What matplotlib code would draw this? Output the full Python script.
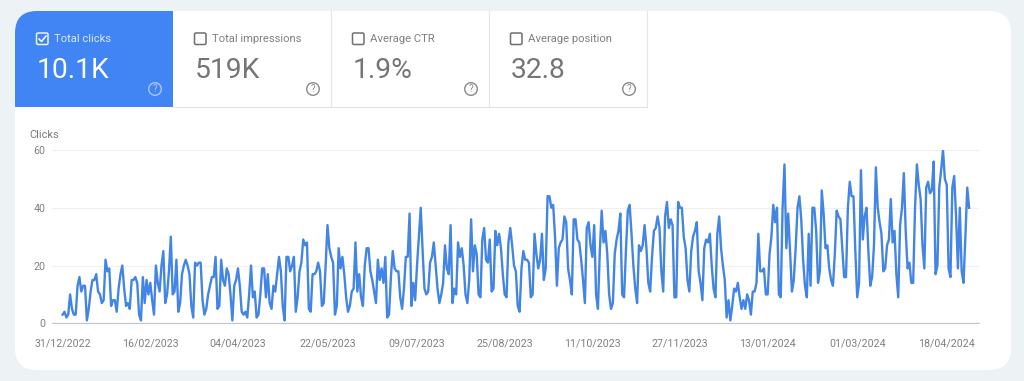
import matplotlib
matplotlib.use("Agg")
import matplotlib.pyplot as plt
from matplotlib.patches import FancyBboxPatch, Rectangle, Circle
import numpy as np

plt.rcParams['font.family'] = ['Roboto', 'DejaVu Sans']

tile_names = ["Total clicks", "Total impressions", "Average CTR", "Average position"]
tile_values = ["10.1K", "519K", "1.9%", "32.8"]
y_ticks = [0, 20, 40, 60]
x_tick_days = [0, 47, 94, 142, 190, 237, 284, 331, 378, 426, 474]
x_tick_labels = ["31/12/2022", "16/02/2023", "04/04/2023", "22/05/2023", "09/07/2023", "25/08/2023",
                 "11/10/2023", "27/11/2023", "13/01/2024", "01/03/2024", "18/04/2024"]

# daily clicks
clicks_a = [3, 4, 2, 3, 10, 5, 3, 3, 13, 16, 11, 13, 13, 1, 5, 11, 15, 15, 17, 11, 10, 7, 8, 22, 18, 19, 6, 8, 8, 4,
            12, 17, 20, 12, 6, 7, 5, 15, 15, 16, 14, 3, 1, 16, 7, 15, 10, 14, 8, 3, 20, 14, 11, 20, 25, 7, 10, 18, 30,
            10, 11, 22, 4, 7, 17, 20, 22, 20, 17, 6, 2, 21, 20, 21, 21, 8, 3, 5, 10, 13, 16, 16, 23, 5, 6, 22, 15, 13,
            19, 17, 10, 1, 13, 15, 19, 13, 4, 3, 4, 2, 10, 20, 9, 11, 2, 3, 10, 19, 19, 9, 17, 7, 5, 13, 11, 17, 23,
            18, 6, 1, 23, 23, 18, 20, 23, 4, 9, 18, 21, 29, 27, 28, 5, 4, 17, 17, 18, 21, 18, 6, 7, 20, 34, 26, 23, 21,
            3, 6, 26, 19, 23, 17, 9, 4, 6, 11, 12, 28]
clicks_b = [11, 17, 9, 6, 20, 26, 26, 18, 15, 11, 7, 22, 15, 19, 14, 23, 2, 3, 16, 25, 19, 18, 18, 9, 5, 12, 23, 23,
            38, 6, 14, 8, 20, 30, 40, 25, 12, 10, 11, 21, 23, 28, 20, 12, 7, 10, 14, 27, 19, 17, 34, 7, 12, 10, 28, 23,
            26, 20, 10, 7, 15, 36, 18, 27, 24, 10, 9, 29, 33, 22, 21, 29, 11, 12, 32, 27, 31, 26, 17, 10, 9, 28, 33,
            27, 20, 18, 6, 4, 19, 25, 22, 22, 21, 9, 10, 31, 24, 19, 22, 31, 15, 19, 44, 44, 40, 41, 30, 13, 26, 28,
            29, 37, 35, 19, 15, 10, 36, 36, 29, 28, 22, 15, 7, 33, 35, 27, 23, 34, 10, 5, 25, 39, 28, 32, 24, 10, 5, 7,
            24, 29, 32, 38, 10, 9, 25, 39, 41, 31, 20, 12, 7, 27, 25, 27, 34, 26, 14, 11, 23, 32, 33, 37, 33, 18, 11,
            37, 42, 33, 36, 34, 9, 9, 42, 40, 40]
clicks_c = [30, 26, 15, 11, 25, 30, 32, 35, 18, 14, 8, 26, 29, 28, 31, 20, 12, 9, 31, 37, 26, 20, 15, 2, 8, 1, 6, 12,
            11, 14, 9, 5, 8, 5, 10, 8, 3, 11, 11, 14, 31, 18, 18, 19, 10, 10, 24, 30, 41, 35, 40, 10, 9, 40, 55, 26,
            38, 25, 11, 15, 26, 40, 44, 36, 22, 13, 9, 31, 13, 40, 40, 32, 14, 18, 46, 38, 26, 27, 19, 15, 13, 24, 39,
            37, 36, 26, 16, 16, 40, 49, 44, 44, 25, 9, 14, 53, 29, 37, 40, 25, 13, 16, 27, 54, 40, 35, 31, 18, 19, 27,
            29, 43, 28, 32, 17, 9, 34, 40, 52, 32, 19, 21, 14, 14, 40, 55, 48, 43, 27, 19, 47, 49, 45, 46, 56, 17, 20,
            47, 53, 60, 50, 48, 19, 16, 47, 51, 37, 19, 40, 18, 14, 30, 47, 40]
clicks = clicks_a + clicks_b + clicks_c

fig = plt.figure(figsize=(10.24, 3.81), dpi=100, facecolor='#edf2f5')

# page layer in pixel coordinates
bg = fig.add_axes([0, 0, 1, 1])
bg.set_xlim(0, 1024)
bg.set_ylim(381, 0)
bg.axis('off')

card = FancyBboxPatch((15, 11), 996, 359, boxstyle="round,pad=0,rounding_size=22", facecolor='white', edgecolor='none')
bg.add_patch(card)

blue = Rectangle((15, 11), 158, 96, facecolor='#4184f3', edgecolor='none')
bg.add_patch(blue)
blue.set_clip_path(card)

for i in range(4):
    x0 = 15 + 158 * i
    selected = i == 0
    if not selected:
        bg.plot([x0 + 158, x0 + 158], [11, 107], color='#e6e6e6', lw=0.8)
        bg.plot([x0, x0 + 158], [107, 107], color='#e2e2e2', lw=0.8)
    fg = 'white' if selected else '#757575'
    bg.add_patch(FancyBboxPatch((x0 + 21.5, 33), 11.5, 11.5, boxstyle="round,pad=0,rounding_size=1.5",
                                facecolor='none', edgecolor='#e8f0fe' if selected else '#6f6f6f', lw=1.1))
    if selected:
        bg.plot([x0 + 24, x0 + 26.5, x0 + 31], [39, 41.5, 36], color='white', lw=1.1)
    bg.text(x0 + 39, 39, tile_names[i], fontsize=8.1, color='#d9e6fc' if selected else '#808080',
            ha='left', va='center')
    bg.text(x0 + 22, 70, tile_values[i], fontsize=20.3, color=fg, ha='left', va='center')
    hx = x0 + 140
    bg.add_patch(Circle((hx, 89), 6.3, facecolor='none', edgecolor='#a9c6f8' if selected else '#8a8a8a', lw=1))
    bg.text(hx, 89, "?", fontsize=7, color='#a9c6f8' if selected else '#8a8a8a', ha='center', va='center')

bg.text(29, 135.5, "Clicks", fontsize=7.9, color='#7b7b7b', ha='left', va='center')

# chart
ax = fig.add_axes([52 / 1024, 1 - 323.3 / 381, (979 - 52) / 1024, (323.3 - 150) / 381])
ax.patch.set_alpha(0)
ax.plot(np.arange(len(clicks)), clicks, color='#4285e4', lw=1.7, solid_joinstyle='round')
ax.set_xlim(-5.7, 491.3)
ax.set_ylim(0, 60)
ax.set_yticks(y_ticks)
ax.set_xticks(x_tick_days)
ax.set_xticklabels(x_tick_labels)
ax.tick_params(axis='both', length=0, labelsize=7.7, labelcolor='#808080')
ax.tick_params(axis='x', pad=11)
ax.tick_params(axis='y', pad=4.5)
ax.grid(True, 'major', 'y', color='#f0f0f0', linewidth=0.9)
ax.set_axisbelow(True)
for s in ['top', 'right', 'left']:
    ax.spines[s].set_visible(False)
ax.spines['bottom'].set_color('#c4c8cc')
ax.spines['bottom'].set_linewidth(0.9)

fig.savefig('out.png', dpi=100, facecolor=fig.get_facecolor())
